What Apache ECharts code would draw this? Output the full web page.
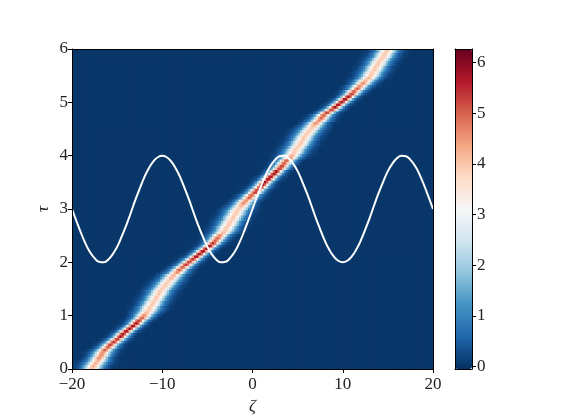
<!DOCTYPE html>
<html><head><meta charset="utf-8">
<style>html,body{margin:0;padding:0;background:#fff}#c{width:581px;height:415px}</style>
<script src="https://cdn.jsdelivr.net/npm/echarts@6/dist/echarts.min.js"></script>
</head><body><div id="c"></div>
<script>
// Field grid: 160 columns over zeta (-20..20), 120 rows over tau (0..6)
const columnCount = 160;
const rowCount = 120;
const columnStep = 0.25;
const rowStep = 0.05;
const backgroundLevel = 0.03;

// Ridge position (column index) for each tau row
const ridgeColumn = [
8.5,9,10,11,11.5,12.5,13,14,15.5,16.5,
18,19.5,21,22,23.5,25,26.5,28,29,30.5,
31.5,32.5,33.5,34,35,35.5,36.5,37,38,38.5,
39.5,40.5,41.5,42.5,43.5,44.5,46,47,48.5,50,
51.5,53,54.5,56,57.5,59,60.5,62,63,64,
65,66.5,67.5,68,69,69.5,70.5,71,72,72.5,
73.5,74.5,75.5,76.5,78,79,80.5,81.5,83,84,
85,86.5,87.5,89,90,91.5,92.5,93.5,94.5,96,
97,98,98.5,99.5,100.5,101,102,102.5,103.5,104.5,
105.5,106.5,107.5,109,110,111,112.5,114.5,116,117.5,
119,120.5,122,123.5,124.5,126,127,128.5,129.5,131,
132,132.5,133.5,134,135,135.5,136.5,137.5,138,139];

// Ridge crest height (tenths) for each tau row
const ridgeCrest = [
42,42,42,42,46,46,46,50,50,54,
54,54,58,58,58,58,58,58,54,50,
46,42,40,40,40,40,40,40,40,40,
40,40,40,40,42,42,46,50,50,54,
54,54,58,58,58,58,58,54,50,50,
46,42,40,40,40,40,40,40,40,40,
40,42,46,46,50,50,54,54,54,58,
58,58,58,58,58,54,54,50,50,46,
42,40,40,40,40,40,40,40,40,40,
40,42,46,46,50,50,54,54,58,58,
58,58,58,54,50,50,46,46,42,42,
40,40,40,40,40,40,40,40,40,40];

// Cross-sections (tenths) by crest height, crest on a cell or on a cell edge
const sectionOnCell = {
40:[1,1,2,4,6,10,16,23,31,37,40,37,31,23,16,10,6,4,2,1,1],
42:[1,1,2,3,6,9,15,22,31,39,42,39,31,22,15,9,6,3,2,1,1],
46:[1,1,3,5,8,13,22,32,42,46,42,32,22,13,8,5,3,1,1],
50:[1,2,4,7,12,21,33,45,50,45,33,21,12,7,4,2,1],
54:[1,1,3,6,11,20,34,48,54,48,34,20,11,6,3,1,1],
58:[1,2,5,10,19,34,50,58,50,34,19,10,5,2,1]};
const sectionOnEdge = {
40:[1,2,3,5,8,12,19,27,34,39,39,34,27,19,12,8,5,3,2,1],
42:[1,3,4,7,12,18,27,35,41,41,35,27,18,12,7,4,3,1],
46:[2,3,6,11,17,27,38,45,45,38,27,17,11,6,3,2],
50:[1,3,5,9,16,27,39,49,49,39,27,16,9,5,3,1],
54:[1,2,4,8,15,26,41,52,52,41,26,15,8,4,2,1],
58:[1,2,3,7,14,26,42,56,56,42,26,14,7,3,2,1]};

// White curve, sampled every half unit of zeta
const curveZeta = Array.from({length: 81}, (_, i) => i * 0.5 - 20);
const curveTau = [
3,2.77,2.55,2.35,2.19,2.08,2.01,2,2.05,2.15,2.29,2.48,2.69,2.92,3.16,3.38,3.59,3.76,3.89,3.97,
4,3.97,3.89,3.76,3.59,3.38,3.16,2.92,2.69,2.48,2.29,2.15,2.05,2,2.01,2.08,2.19,2.35,2.55,2.77,
3,3.23,3.45,3.65,3.81,3.92,3.99,4,3.95,3.85,3.71,3.52,3.31,3.08,2.84,2.62,2.41,2.24,2.11,2.03,
2,2.03,2.11,2.24,2.41,2.62,2.84,3.08,3.31,3.52,3.71,3.85,3.95,4,3.99,3.92,3.81,3.65,3.45,3.23,3];

const colorbarTicks = [0,1,2,3,4,5,6];
const colorMin = -0.05, colorMax = 6.27;
const rdBu = ['#053061','#2166ac','#4393c3','#92c5de','#d1e5f0','#f7f7f7','#fddbc7','#f4a582','#d6604d','#b2182b','#67001f'];

// Build cells: [zeta of the cell's left edge, tau of its lower edge, value]
const field = [];
for (let r = 0; r < rowCount; r++) {
  const row = new Array(columnCount).fill(backgroundLevel);
  const u = ridgeColumn[r];
  const onCell = Number.isInteger(u);
  const sec = (onCell ? sectionOnCell : sectionOnEdge)[ridgeCrest[r]];
  const start = onCell ? u - (sec.length - 1) / 2 : u + 0.5 - sec.length / 2;
  sec.forEach((v, i) => { const c = start + i; if (c >= 0 && c < columnCount) row[c] = v / 10; });
  row.forEach((v, c) => field.push([-20 + c * columnStep, r * rowStep, v]));
}
const curve = curveZeta.map((z, i) => [z, curveTau[i]]);

const font = 'Liberation Serif';
const main = {left: 72, top: 49, width: 361, height: 320, outerBoundsMode: 'none'};
const bar = {left: 455, top: 49, width: 17, height: 320, outerBoundsMode: 'none'};
const line = {show: true, onZero: false, lineStyle: {color: '#000', width: 1}};
const frame = (o) => Object.assign({type: 'value', z: 6, silent: true, splitLine: {show: false}, axisLine: line, axisTick: {show: false}, axisLabel: {show: false}}, o);
const tick = {show: true, inside: false, length: 4, lineStyle: {color: '#000', width: 1}};
const label = {show: true, fontFamily: font, fontSize: 17, color: '#222', margin: 4, formatter: v => String(v).replace('-', '\u2212')};

// Each cell runs one pixel under the next, so no white shows through the soft edges
function drawCell(params, api) {
  const z = api.value(0), t = api.value(1);
  const a = api.coord([z, t + rowStep]);
  const b = api.coord([z + columnStep, t]);
  const right = Math.min(b[0] + 1, main.left + main.width);
  const bottom = Math.min(b[1] + 1, main.top + main.height);
  return {type: 'rect', silent: true,
    shape: {x: a[0], y: a[1], width: right - a[0], height: bottom - a[1]},
    style: {fill: api.visual('color')}};
}

const chart = echarts.init(document.getElementById('c'), null, {renderer: 'canvas'});
chart.setOption({
  animation: false,
  backgroundColor: '#fff',
  grid: [Object.assign({show: false}, main), Object.assign({show: false}, bar)],
  xAxis: [
    frame({gridIndex: 0, position: 'bottom', min: -20, max: 20, interval: 10,
      axisTick: tick, axisLabel: Object.assign({}, label, {margin: 7}),
      name: '\u03B6', nameLocation: 'middle', nameGap: 29, nameMoveOverlap: false,
      nameTextStyle: {fontFamily: font, fontStyle: 'italic', fontSize: 17, color: '#222'}}),
    frame({gridIndex: 0, position: 'top', min: -20, max: 20, interval: 10}),
    frame({gridIndex: 1, position: 'bottom', min: 0, max: 1}),
    frame({gridIndex: 1, position: 'top', min: 0, max: 1})
  ],
  yAxis: [
    frame({gridIndex: 0, position: 'left', min: 0, max: 6, interval: 1,
      axisTick: tick, axisLabel: label,
      name: '\u03C4', nameLocation: 'middle', nameGap: 20, nameMoveOverlap: false,
      nameTextStyle: {fontFamily: font, fontStyle: 'italic', fontSize: 17, color: '#222'}}),
    frame({gridIndex: 0, position: 'right', min: 0, max: 6, interval: 1}),
    frame({gridIndex: 1, position: 'left', min: colorMin, max: colorMax}),
    frame({gridIndex: 1, position: 'right', min: colorMin, max: colorMax,
      axisTick: Object.assign({customValues: colorbarTicks}, tick),
      axisLabel: Object.assign({}, label, {margin: 5, customValues: colorbarTicks})})
  ],
  visualMap: {
    type: 'continuous', min: colorMin, max: colorMax, seriesIndex: 0, dimension: 2,
    calculable: false, realtime: false, hoverLink: false, show: true, silent: true,
    left: bar.left, top: bar.top, padding: 0, itemWidth: bar.width, itemHeight: bar.height,
    text: null, showLabel: false, orient: 'vertical',
    inRange: {color: rdBu}
  },
  series: [
    {type: 'custom', xAxisIndex: 0, yAxisIndex: 0, data: field, encode: {x: 0, y: 1}, renderItem: drawCell,
     progressive: 0, silent: true, z: 1},
    {type: 'line', xAxisIndex: 0, yAxisIndex: 0, data: curve, smooth: true, showSymbol: false, silent: true, z: 3,
     lineStyle: {color: '#fff', width: 2}}
  ]
});
</script></body></html>
